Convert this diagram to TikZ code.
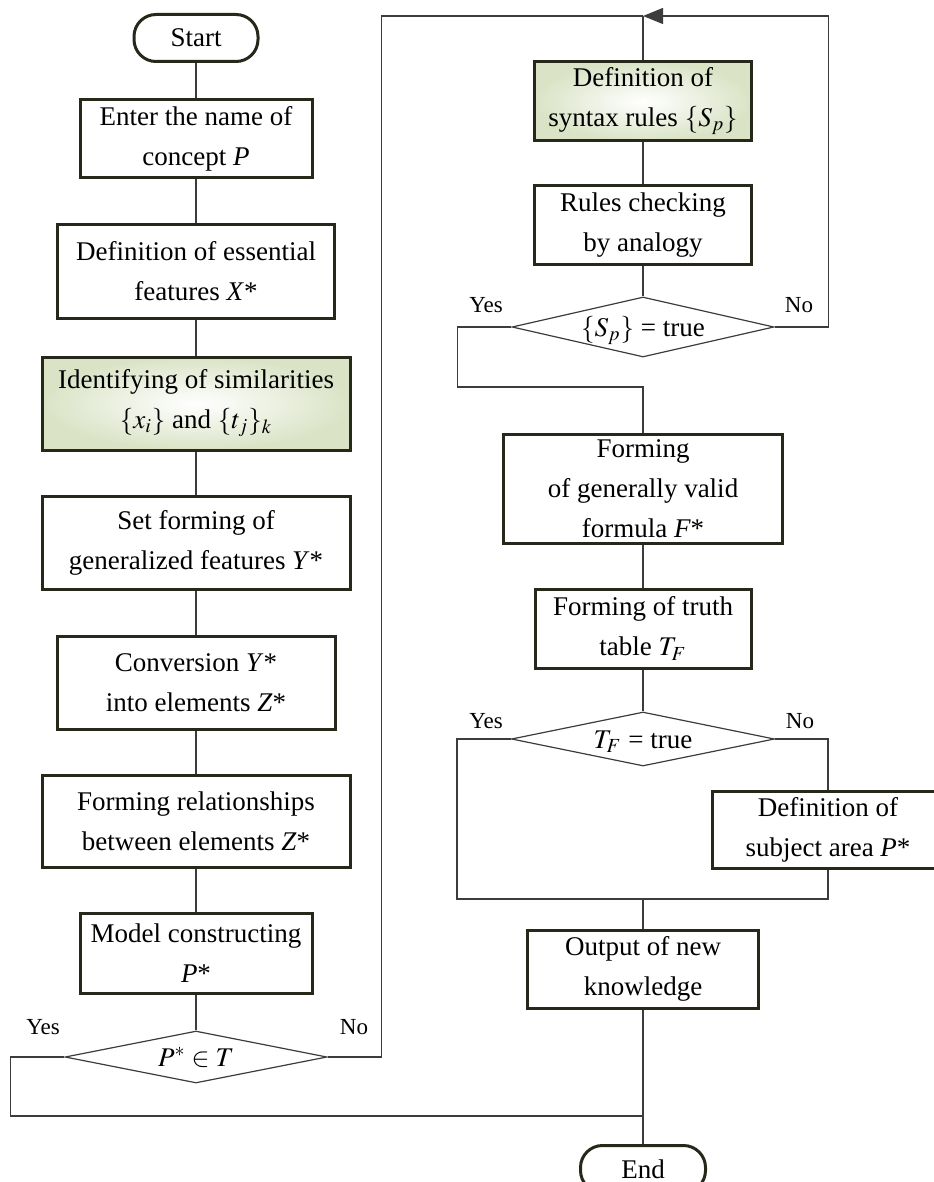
\documentclass[tikz,border=0pt]{standalone}
\usepackage{mathptmx}
\usepackage{fontspec}
\setmainfont{Liberation Serif}
\usepackage{tikz}
\usetikzlibrary{shapes.geometric, arrows.meta, positioning}

\definecolor{boxline}{RGB}{38,40,26}
\definecolor{wireline}{RGB}{60,60,60}
\definecolor{shadegreen}{RGB}{218,227,198}

\newcommand\boxfont{\fontsize{13.5}{20}\selectfont}
\newcommand\tagfont{\fontsize{11.5}{14}\selectfont}

\tikzset{
    box/.style={shape=rectangle, draw=boxline, line width=1.5pt, align=center, inner sep=1pt, font=\boxfont},
    lit box/.style={box, inner color=white, outer color=shadegreen},
    term/.style={box, rounded corners=11pt},
    test/.style={shape=diamond, draw=wireline, line width=0.6pt, aspect=5, inner sep=0pt,
                 text height=9pt, text depth=0pt, font=\boxfont},
    wire/.style={draw=wireline, line width=0.6pt},
    tag/.style={font=\tagfont, inner sep=0pt}
}

\begin{document}
\begin{tikzpicture}[x=0.5pt, y=-0.5pt]
    \useasboundingbox (0,0) rectangle (933,1182);

    \node[term, minimum width=62pt, minimum height=23.5pt] (start) at (196,38) {Start};
    \node[box, minimum width=116pt, minimum height=39pt] (enter) at (196,139) {Enter the name of\\ concept \textit{P}};
    \node[box, minimum width=138.5pt, minimum height=46.5pt] (feat) at (196,271.5) {Definition of essential\\ features \textit{X}*};
    \node[lit box, minimum width=154pt, minimum height=46.5pt] (simil) at (196,403.5) {Identifying of similarities\\ $\{x_i\}$ and $\{t_j\}_k$};
    \node[box, minimum width=154pt, minimum height=46.5pt] (gener) at (196,542.5) {Set forming of\\ generalized features \textit{Y}*};
    \node[box, minimum width=139pt, minimum height=46.5pt] (conv) at (196,682.5) {Conversion \textit{Y}*\\ into elements \textit{Z}*};
    \node[box, minimum width=154pt, minimum height=46pt] (relat) at (196,821) {Forming relationships\\ between elements \textit{Z}*};
    \node[box, minimum width=116pt, minimum height=40pt] (model) at (196,953) {Model constructing\\ \textit{P}*};
    \node[test, minimum width=131pt, minimum height=26pt] (inT) at (196,1057) {$P^*\in T$};

    \node[lit box, minimum width=108.5pt, minimum height=39.5pt] (syntax) at (643,101.5) {Definition of\\ syntax rules $\{S_p\}$};
    \node[box, minimum width=108.5pt, minimum height=39pt] (check) at (643,225) {Rules checking\\ by analogy};
    \node[test, minimum width=131pt, minimum height=30pt] (rulesok) at (643,327) {$\{S_p\}$ = true};
    \node[box, minimum width=139.5pt, minimum height=54.5pt] (formula) at (643,488.5) {Forming\\ of generally valid\\ formula \textit{F}*};
    \node[box, minimum width=108pt, minimum height=39.5pt] (truth) at (643,628.5) {Forming of truth\\ table $T_F$};
    \node[test, minimum width=131.5pt, minimum height=27pt] (truthok) at (643,739) {$T_F$ = true};
    \node[box, minimum width=116pt, minimum height=38.5pt] (subject) at (828,829.5) {Definition of\\ subject area \textit{P}*};
    \node[box, minimum width=115.5pt, minimum height=39pt] (output) at (643,969) {Output of new\\ knowledge};
    \node[term, minimum width=62.5pt, minimum height=23.5pt] (stop) at (643,1169) {End};

    \coordinate (top) at (643,16);
    \coordinate (merge1) at (643,387);
    \coordinate (merge2) at (643,899);
    \coordinate (join) at (643,1116);

    \node[tag] (yes1) at (43,1027) {Yes};
    \node[tag] (no1) at (354,1027) {No};
    \node[tag] (yes2) at (486,305) {Yes};
    \node[tag] (no2) at (799,305) {No};
    \node[tag] (yes3) at (486,721) {Yes};
    \node[tag] (no3) at (800,721) {No};

    \path[wire] (start) edge (enter);
    \path[wire] (enter) edge (feat);
    \path[wire] (feat) edge (simil);
    \path[wire] (simil) edge (gener);
    \path[wire] (gener) edge (conv);
    \path[wire] (conv) edge (relat);
    \path[wire] (relat) edge (model);
    \path[wire] (model) edge (inT);
    \draw[wire] (inT.west) -- ++(-54,0) |- (join);
    \draw[wire] (inT.east) -- ++(54,0) |- (top);

    \path[wire] (top) edge (syntax);
    \path[wire] (syntax) edge (check);
    \path[wire] (check) edge (rulesok);
    \draw[wire, -{Triangle[length=10pt, width=8pt]}] (rulesok.east) -- ++(54,0) |- (top);
    \draw[wire] (rulesok.west) -- ++(-54,0) |- (merge1) -- (formula);
    \path[wire] (formula) edge (truth);
    \path[wire] (truth) edge (truthok);
    \draw[wire] (truthok.west) -- ++(-54,0) |- (merge2);
    \draw[wire] (truthok.east) -| (subject);
    \draw[wire] (subject) |- (merge2);
    \path[wire] (merge2) edge (output);
    \path[wire] (output) edge (stop);
\end{tikzpicture}
\end{document}
